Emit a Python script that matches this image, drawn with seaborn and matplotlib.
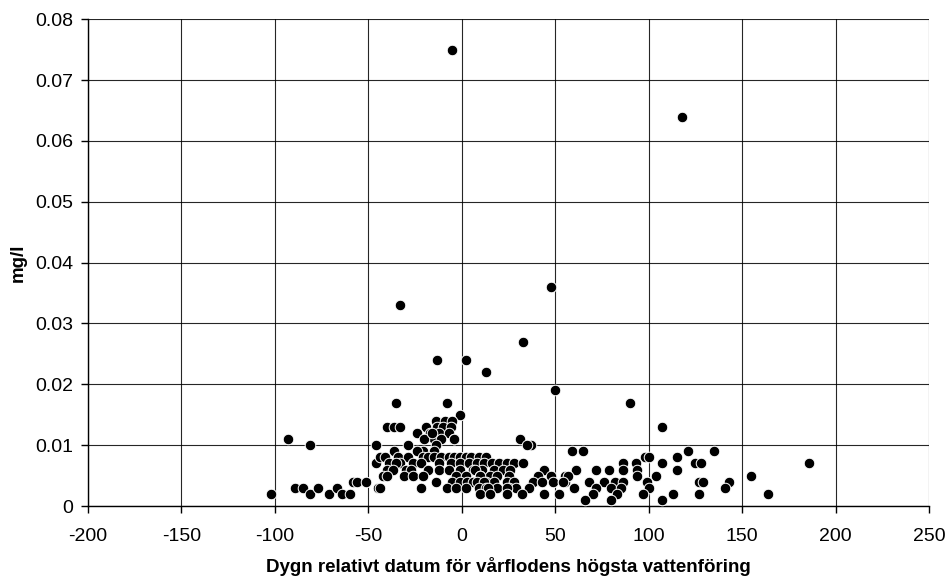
import matplotlib
matplotlib.use("Agg")
import matplotlib.pyplot as plt
import seaborn as sns
import pandas as pd

# Days relative to the date of the spring flood peak, and concentration (mg/l)
days_low = [-102, -93, -89, -85, -81, -81, -77, -71, -67, -64, -60, -58, -56, -51,
            -46, -46, -45]
conc_low = [0.002, 0.011, 0.003, 0.003, 0.010, 0.002, 0.003, 0.002, 0.003, 0.002,
            0.002, 0.004, 0.004, 0.004, 0.010, 0.007, 0.003]

days_high = [-5, 118, 48, -33, 33, -13, 2, 13, 50, -35, -8, -1, 90, 107]
conc_high = [0.075, 0.064, 0.036, 0.033, 0.027, 0.024, 0.024, 0.022, 0.019, 0.017,
             0.017, 0.015, 0.017, 0.013]

days_upper = [-40, -36, -33, -14, -9, -5, -19, -13, -10, -6, -17, -12, -7, -15, -11,
              -4, -14, -21, -15, -29, -36, -24, -24, -4, 31, 37, 35, -20, -16]
conc_upper = [0.013, 0.013, 0.013, 0.014, 0.014, 0.014, 0.013, 0.013, 0.013, 0.013,
              0.012, 0.012, 0.012, 0.011, 0.011, 0.011, 0.010, 0.009, 0.009, 0.010,
              0.009, 0.009, 0.012, 0.011, 0.011, 0.010, 0.010, 0.011, 0.012]

days_r8 = [-44, -41, -34, -29, -21, -18, -15, -11, -7, -4, -1, 2, 5, 9, 13]
conc_r8 = [0.008] * len(days_r8)

days_r7 = [-39, -33, -26, -22, -12, -6, -1, 4, 8, 12, 16, 20, 24, 28, 33, -35]
conc_r7 = [0.007] * len(days_r7)

days_r6 = [-40, -37, -30, -27, -18, -12, -7, -1, 6, 11, 17, 22, 26, 44, 61, 7]
conc_r6 = [0.006] * len(days_r6)

days_r5 = [-42, -40, -31, -26, -21, -3, 2, 10, 15, 19, 25, 41, 48, 57, 10]
conc_r5 = [0.005] * len(days_r5)

days_r4 = [-14, -5, -1, 3, 6, 13, 17, 24, 28, 38, 43, 49, 54, 55, 8, 12]
conc_r4 = [0.004] * len(days_r4)

days_r3 = [-44, -22, -8, -3, 2, 9, 13, 19, 25, 29, 36, 60, 14, 24]
conc_r3 = [0.003] * len(days_r3)

days_r2 = [10, 15, 24, 32, 44, 52]
conc_r2 = [0.002] * len(days_r2)

days_right = [59, 65, 121, 135, 98, 100, 115, 86, 93, 107, 125, 128, 61, 72, 79, 86,
              94, 115, 55, 57, 94, 104, 155, 54, 68, 76, 82, 86, 99, 127, 129, 143,
              60, 72, 80, 85, 100, 141, 70, 83, 97, 113, 127, 66, 80, 107, 164, 186]
conc_right = [0.009, 0.009, 0.009, 0.009, 0.008, 0.008, 0.008, 0.007, 0.007, 0.007,
              0.007, 0.007, 0.006, 0.006, 0.006, 0.006, 0.006, 0.006, 0.005, 0.005,
              0.005, 0.005, 0.005, 0.004, 0.004, 0.004, 0.004, 0.004, 0.004, 0.004,
              0.004, 0.004, 0.003, 0.003, 0.003, 0.003, 0.003, 0.003, 0.002, 0.002,
              0.002, 0.002, 0.002, 0.001, 0.001, 0.001, 0.002, 0.007]

x_ticks = [-200, -150, -100, -50, 0, 50, 100, 150, 200, 250]
y_ticks = [0, 0.01, 0.02, 0.03, 0.04, 0.05, 0.06, 0.07, 0.08]

days = (days_low + days_high + days_upper + days_r8 + days_r7 + days_r6 + days_r5
        + days_r4 + days_r3 + days_r2 + days_right)
conc = (conc_low + conc_high + conc_upper + conc_r8 + conc_r7 + conc_r6 + conc_r5
        + conc_r4 + conc_r3 + conc_r2 + conc_right)
df = pd.DataFrame({"dygn": days, "mgl": conc})

sns.set_style("white")
plt.rcParams["font.family"] = ["Liberation Sans", "DejaVu Sans"]
plt.rcParams["text.color"] = "black"
plt.rcParams["axes.labelcolor"] = "black"

fig = plt.figure(figsize=(9.48, 5.81), dpi=100)
ax = fig.add_axes([0.0928, 0.129, 0.8872, 0.838])

sns.scatterplot(data=df, x="dygn", y="mgl", ax=ax, color="black", s=58,
                edgecolor="white", linewidth=0.7, zorder=3, legend=False)

ax.set_xlim(-200, 250)
ax.set_ylim(0, 0.08)
ax.set_xticks(x_ticks)
ax.set_xticklabels([str(t) for t in x_ticks])
ax.set_yticks(y_ticks)
ax.set_yticklabels(["0"] + [f"{t:.2f}" for t in y_ticks[1:]])
ax.grid(True, color="black", linewidth=0.8, alpha=0.85)
ax.set_axisbelow(True)

for side in ["top", "right"]:
    ax.spines[side].set_visible(False)
for side in ["left", "bottom"]:
    ax.spines[side].set_color("black")
    ax.spines[side].set_linewidth(1.0)

ax.tick_params(axis="both", which="major", direction="out", length=5, width=1,
               color="black", labelsize=14, labelcolor="black",
               bottom=True, left=True)
ax.tick_params(axis="x", pad=10.5)
ax.tick_params(axis="y", pad=5.5)
ax.set_xlabel("Dygn relativt datum för vårflodens högsta vattenföring",
              fontsize=13.5, fontweight="bold", labelpad=9)
ax.set_ylabel("mg/l", fontsize=13.5, fontweight="bold", labelpad=6)

fig.savefig("out.png", dpi=100)
